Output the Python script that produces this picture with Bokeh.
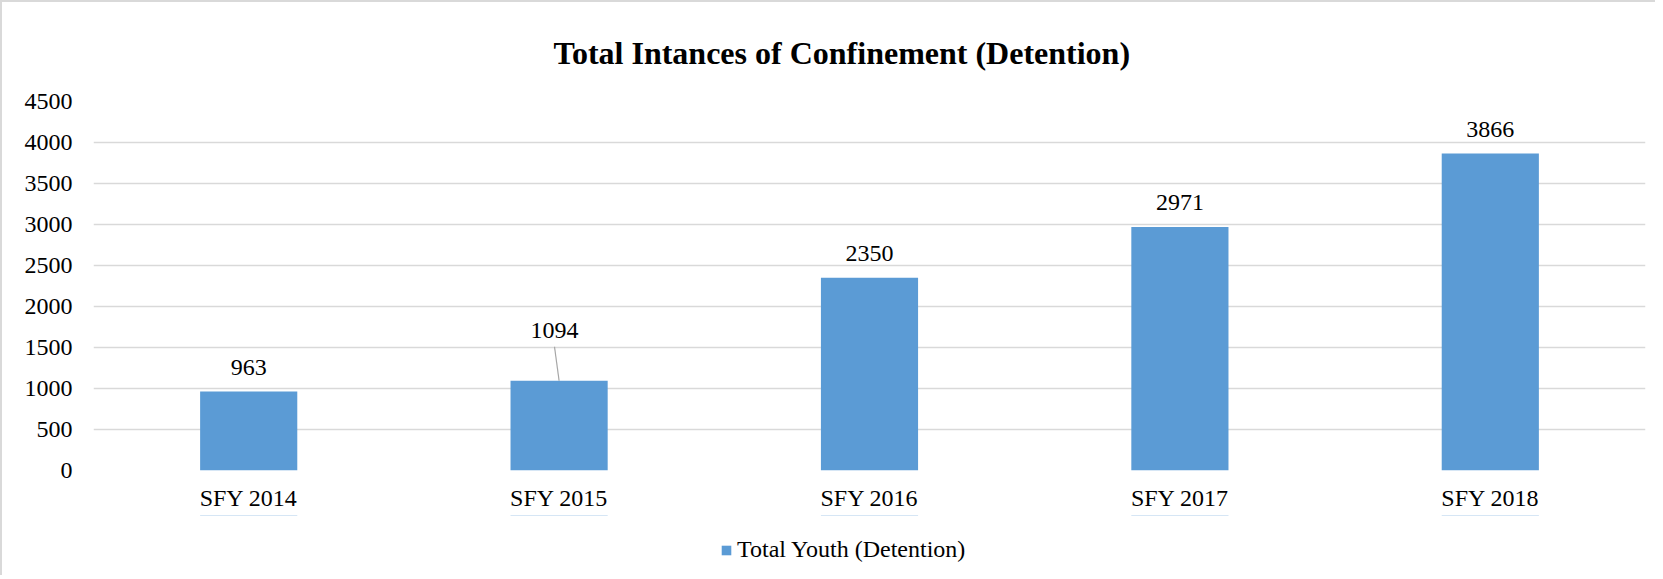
from bokeh.plotting import figure
from bokeh.layouts import column
from bokeh.models import ColumnDataSource, Legend, LegendItem, Title, Range1d, FactorRange, SingleIntervalTicker
from bokeh.transform import dodge
from bokeh.core.properties import value
from bokeh.embed import file_html
from bokeh.resources import INLINE

categories = ["SFY 2014", "SFY 2015", "SFY 2016", "SFY 2017", "SFY 2018"]
values = [963, 1094, 2350, 2971, 3866]
labels = ["963", "1094", "2350", "2971", "3866"]
title_text = "Total Intances of Confinement (Detention)"
series_name = "Total Youth (Detention)"

FONT = "Liberation Serif"
BAR = "#5b9bd5"
GRID = "#d9d9d9"

Y_MAX = 4500
FRAME_H = 369
FRAME_W = 1552
px_per_unit = FRAME_H / Y_MAX
cat_px = FRAME_W / len(categories)

# label displacement (pixels); the 2015 label is lifted and joined by a leader line
lift_px = [0, 26, 0, 0, 0]
shift_px = [0, -4.6, 0, 0, 0]
lead_px = 34

src = ColumnDataSource(dict(
    x=categories, top=values, label=labels,
    ytext=[v + l / px_per_unit for v, l in zip(values, lift_px)],
    xoff=shift_px,
))

p = figure(
    x_range=FactorRange(*categories), y_range=Range1d(0, Y_MAX),
    frame_width=FRAME_W, frame_height=FRAME_H,
    output_backend="svg", toolbar_location=None,
    min_border_left=91, min_border_right=10, min_border_top=96, min_border_bottom=45,
)
p.outline_line_color = None
p.background_fill_color = "white"
p.border_fill_color = "white"

p.title = Title(text=title_text, align="left", text_font=FONT, text_font_size="32px",
                text_font_style="bold", text_color="black", offset=460, standoff=61)

p.ygrid.grid_line_color = GRID
p.ygrid.grid_line_width = 1.3
p.xgrid.grid_line_color = None
p.yaxis.ticker = SingleIntervalTicker(interval=500)

for ax in (p.xaxis[0], p.yaxis[0]):
    ax.axis_line_color = None
    ax.major_tick_line_color = None
    ax.minor_tick_line_color = None
    ax.major_label_text_font = FONT
    ax.major_label_text_font_size = "24px"
    ax.major_label_text_color = "black"
p.yaxis.major_label_standoff = 15
p.xaxis.major_label_standoff = 8

r = p.vbar(x="x", top="top", width=0.313, source=src, fill_color=BAR, line_color=None)

# leader line for displaced label
lead = ColumnDataSource(dict(
    x0=[categories[1]], y0=[values[1]],
    y1=[values[1] + lead_px / px_per_unit],
))
p.segment(x0="x0", y0="y0", x1=dodge("x0", shift_px[1] / cat_px, range=p.x_range), y1="y1",
          source=lead, line_color="#a6a6a6", line_width=1.2)

p.text(x="x", y="ytext", text="label", source=src,
       text_font=value(FONT), text_font_size="24px", text_color="black",
       text_align="center", text_baseline="alphabetic", y_offset=-24, x_offset="xoff")

# legend strip below the chart (its frame is aligned with the chart's frame by the column)
p2 = figure(width=91 + FRAME_W + 10, height=60,
            x_range=FactorRange(*categories), y_range=Range1d(-2, -1),
            x_axis_type=None, y_axis_type=None, output_backend="svg", toolbar_location=None,
            min_border_left=0, min_border_right=0, min_border_top=0, min_border_bottom=0)
p2.outline_line_color = None
p2.xgrid.grid_line_color = None
p2.ygrid.grid_line_color = None
p2.background_fill_color = "white"
p2.border_fill_color = "white"
# same series, drawn out of this strip's view: only its legend swatch shows
swatch = p2.vbar(x="x", top="top", width=0.313, source=src, fill_color=BAR, line_color=None)

legend = Legend(items=[LegendItem(label=series_name, renderers=[swatch])],
                orientation="horizontal", location=(627, 12),
                label_text_font=FONT, label_text_font_size="24px", label_text_color="black",
                glyph_width=12, glyph_height=12, label_standoff=5,
                border_line_color=None, background_fill_alpha=0, padding=0, margin=0)
p2.add_layout(legend)

layout = column(p, p2)
layout.styles = {"border-left": "2px solid #d9d9d9", "border-top": "2px solid #d9d9d9"}

open("out.html", "w").write(file_html(layout, INLINE))
